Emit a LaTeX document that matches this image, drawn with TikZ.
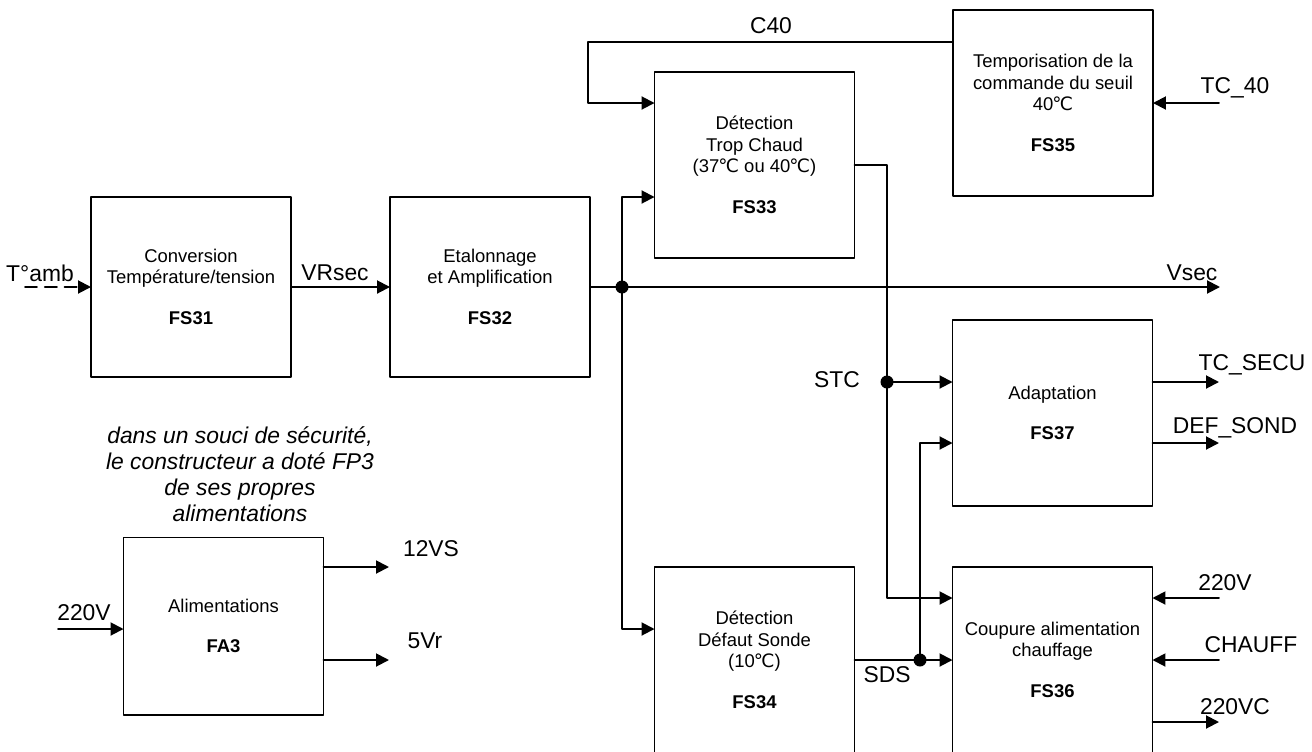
\documentclass[tikz,border=0pt]{standalone}
\usepackage{fontspec}
\setmainfont{Liberation Sans}
\newfontfamily\degfont{DejaVu Sans}
\newcommand{\degc}{{\degfont\kern-0.05em ℃}}
\usetikzlibrary{arrows.meta,calc}

\begin{document}
\begin{tikzpicture}[line cap=round,line join=round,>={Triangle[length=7.4pt,width=7.4pt]},x=0.02cm,y=-0.02cm,
    bloc/.style={draw,line width=1.1pt,minimum width=4cm,minimum height=3.72cm,inner sep=0pt,outer sep=0pt,align=center,font=\fontsize{10.5}{12.2}\selectfont},
    fil/.style={line width=1.1pt},
    sig/.style={inner sep=0pt,font=\fontsize{13}{15}\selectfont}]
            \clip (0,0) rectangle (1312,751);
            % blocs
            \node[bloc,minimum height=3.6cm] (b31) at (191,287) {Conversion\\Température/tension\\[11pt]\textbf{FS31}};
            \node[bloc,minimum height=3.6cm] (b32) at (490,287) {Etalonnage\\et Amplification\\[11pt]\textbf{FS32}};
            \node[bloc] (b33) at (754.5,165) {Détection\\Trop Chaud\\(37\degc{} ou 40\degc)\\[11pt]\textbf{FS33}};
            \node[bloc] (b35) at (1053,103) {Temporisation de la\\commande du seuil\\40\degc\\[11pt]\textbf{FS35}};
            \node[bloc] (b37) at (1052.5,413) {Adaptation\\[11pt]\textbf{FS37}};
            \node[bloc] (b34) at (754.5,660) {Détection\\Défaut Sonde\\(10\degc)\\[11pt]\textbf{FS34}};
            \node[bloc] (b36) at (1052.5,660) {Coupure alimentation\\chauffage\\[11pt]\textbf{FS36}};
            \node[bloc,line width=0.6pt,minimum height=3.56cm] (fa3) at (223.5,626) {Alimentations\\[11pt]\textbf{FA3}};
            % points libres
            \coordinate (tamb) at (25,287);
            \coordinate (vsec) at (1220,287);
            \coordinate (j1) at (622,287);
            \coordinate (c40) at (588,103);
            \coordinate (stc) at (887,382);
            \coordinate (sds) at (920,660);
            \coordinate (tc40) at (1219,103);
            \coordinate (tcsecu) at (1219,382);
            \coordinate (defsond) at (1219,443);
            \coordinate (v220) at (1219,598);
            \coordinate (chauff) at (1219,660);
            \coordinate (v220c) at (1219,722);
            \coordinate (a220) at (58,629);
            \coordinate (v12) at (389,567);
            \coordinate (v5) at (389,660);
            % liaisons
            \draw[fil,dash pattern=on 6.8pt off 4.5pt,->] (tamb) -- (b31);
            \draw[fil,->] (b31) -- (b32);
            \draw[fil,->] (b32) -- (vsec);
            \draw[fil,->] (j1) |- ($(b33.west)+(0,32)$);
            \draw[fil,->] (j1) |- ($(b34.west)+(0,-31)$);
            \fill (j1) circle (0.13cm);
            \draw[fil,->] ($(b35.west)+(0,-61)$) -| (c40) -- (c40 -| b33.west);
            \draw[fil,<-] (b35.east |- tc40) -- (tc40);
            \draw[fil] (b33.east) -| (stc);
            \draw[fil,->] (stc) |- ($(b36.west)+(0,-62)$);
            \draw[fil,->] (stc) -- (stc -| b37.west);
            \fill (stc) circle (0.13cm);
            \draw[fil,->] (b34.east) -- (b36.west);
            \draw[fil,->] (sds) |- ($(b37.west)+(0,30)$);
            \fill (sds) circle (0.13cm);
            \draw[fil,->] (b37.east |- tcsecu) -- (tcsecu);
            \draw[fil,->] (b37.east |- defsond) -- (defsond);
            \draw[fil,<-] (b36.east |- v220) -- (v220);
            \draw[fil,<-] (b36.east |- chauff) -- (chauff);
            \draw[fil,->] (b36.east |- v220c) -- (v220c);
            \draw[fil,->] (a220) -- (fa3.west |- a220);
            \draw[fil,->] (fa3.east |- v12) -- (v12);
            \draw[fil,->] (fa3.east |- v5) -- (v5);
            % etiquettes
            \node[sig] (ltamb) at (40,273) {T°amb};
            \node[sig] (lvrsec) at (335,273) {VRsec};
            \node[sig] (lvsec) at (1192,273) {Vsec};
            \node[sig] (lc40) at (771,26) {C40};
            \node[sig] (ltc40) at (1235,88) {TC\_40};
            \node[sig] (lstc) at (837,380) {STC};
            \node[sig] (lsds) at (887,675) {SDS};
            \node[sig] (ltcsecu) at (1252,365) {TC\_SECU};
            \node[sig] (ldefsond) at (1235,428) {DEF\_SOND};
            \node[sig] (lv220) at (1225,583) {220V};
            \node[sig] (lchauff) at (1251,645) {CHAUFF};
            \node[sig] (lv220c) at (1235,707) {220VC};
            \node[sig] (la220) at (84,613) {220V};
            \node[sig] (lv12) at (431,549) {12VS};
            \node[sig] (lv5) at (425,641) {5Vr};
            \node[inner sep=0pt,align=center,font=\fontsize{13}{14.7}\selectfont\itshape] (note) at (240,474) {dans un souci de sécurité,\\le constructeur a doté FP3\\de ses propres\\alimentations};
\end{tikzpicture}
\end{document}
